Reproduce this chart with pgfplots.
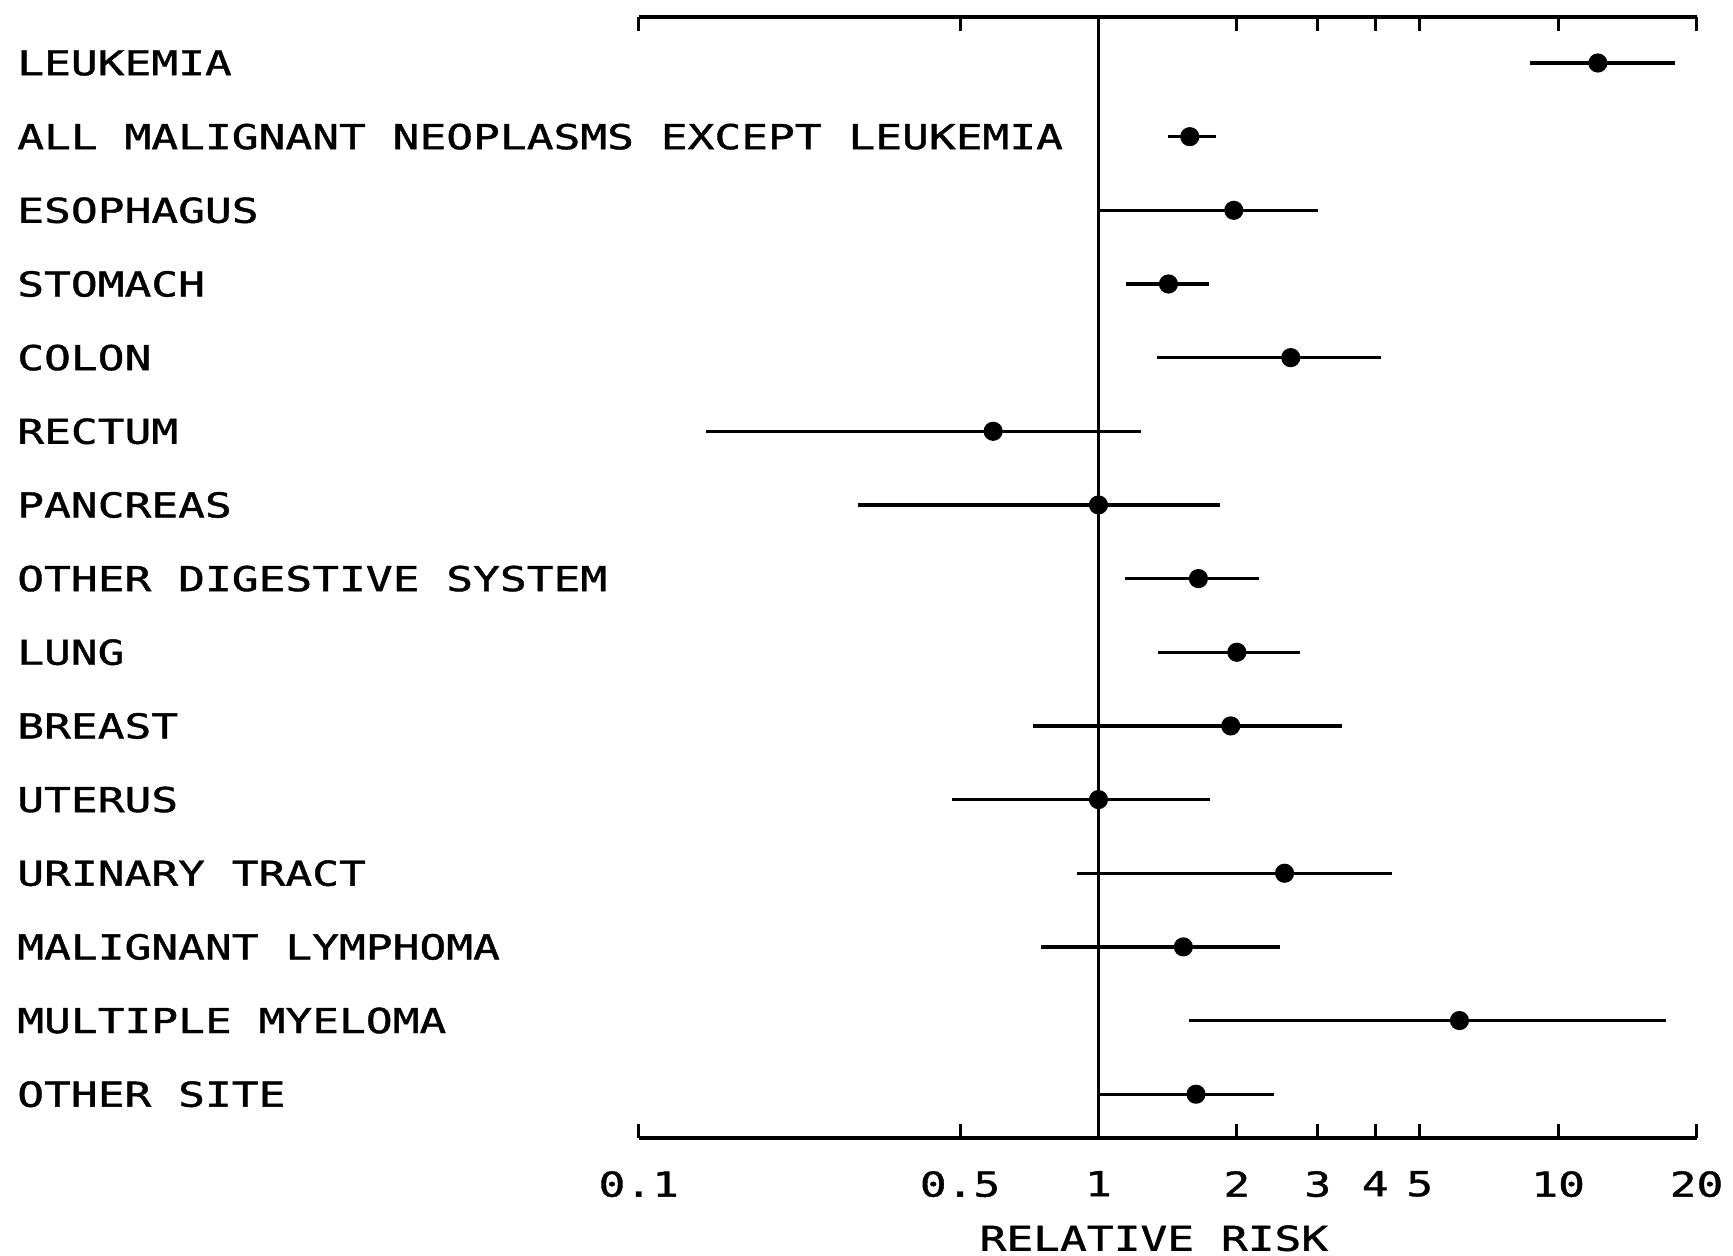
\documentclass[border=0pt]{standalone}
\usepackage{fontspec}
\setmainfont{DejaVu Sans Mono}[FakeStretch=1.3, FakeBold=1.2]
\usepackage{pgfplots}
\pgfplotsset{compat=1.18}
\usepackage{pgfplotstable}

\pgfplotstableread{
y est lo hi
1 12.2 8.7 18
2 1.58 1.42 1.80
3 1.97 1.0 3.0
4 1.42 1.15 1.74
5 2.62 1.34 4.12
6 0.59 0.14 1.24
7 1.0 0.30 1.84
8 1.65 1.14 2.23
9 2.0 1.35 2.75
10 1.94 0.72 3.38
11 1.0 0.48 1.75
12 2.54 0.90 4.36
13 1.53 0.75 2.48
14 6.1 1.57 17.2
15 1.63 1.0 2.41
}\riskdata

\begin{document}
\fontsize{9.3pt}{11pt}\selectfont
\begin{tikzpicture}
\begin{axis}[
  name=ax,
  scale only axis,
  width=287.1pt, height=304.5pt,
  xmode=log,
  xmin=0.1, xmax=20,
  ymin=0.37, ymax=15.6,
  y dir=reverse,
  separate axis lines,
  every outer y axis line/.append style={draw=none},
  every outer x axis line/.append style={line width=1.1pt},
  xtick={0.1,0.5,1,2,3,4,5,10,20},
  xticklabels={0.1,0.5,1,2,3,4,5,10,20},
  xminorticks=false,
  tick align=inside,
  major tick length=4pt,
  x tick style={line width=0.8pt, black},
  ytick={1,2,3,4,5,6,7,8,9,10,11,12,13,14,15},
  yticklabels={LEUKEMIA, ALL MALIGNANT NEOPLASMS EXCEPT LEUKEMIA, ESOPHAGUS, STOMACH, COLON, RECTUM, PANCREAS, OTHER DIGESTIVE SYSTEM, LUNG, BREAST, UTERUS, URINARY TRACT, MALIGNANT LYMPHOMA, MULTIPLE MYELOMA, OTHER SITE},
  y tick style={draw=none},
  yticklabel style={inner sep=0pt, anchor=west, xshift=-168.9pt},
  xticklabel style={inner sep=0pt, anchor=north, yshift=-8.7pt},
  xlabel={RELATIVE RISK},
  every axis x label/.style={at={(axis description cs:0.487,0)}, anchor=north, inner sep=0pt, yshift=-23.4pt},
  clip=false,
]
\addplot[black, line width=0.8pt] coordinates {(1,0.37) (1,15.6)};
\addplot[black, line width=0.9pt] coordinates {(8.7,1) (18,1)};
\addplot[black, line width=0.9pt] coordinates {(1.42,2) (1.80,2)};
\addplot[black, line width=0.9pt] coordinates {(1.0,3) (3.0,3)};
\addplot[black, line width=0.9pt] coordinates {(1.15,4) (1.74,4)};
\addplot[black, line width=0.9pt] coordinates {(1.34,5) (4.12,5)};
\addplot[black, line width=0.9pt] coordinates {(0.14,6) (1.24,6)};
\addplot[black, line width=0.9pt] coordinates {(0.30,7) (1.84,7)};
\addplot[black, line width=0.9pt] coordinates {(1.14,8) (2.23,8)};
\addplot[black, line width=0.9pt] coordinates {(1.35,9) (2.75,9)};
\addplot[black, line width=0.9pt] coordinates {(0.72,10) (3.38,10)};
\addplot[black, line width=0.9pt] coordinates {(0.48,11) (1.75,11)};
\addplot[black, line width=0.9pt] coordinates {(0.90,12) (4.36,12)};
\addplot[black, line width=0.9pt] coordinates {(0.75,13) (2.48,13)};
\addplot[black, line width=0.9pt] coordinates {(1.57,14) (17.2,14)};
\addplot[black, line width=0.9pt] coordinates {(1.0,15) (2.41,15)};
\addplot[only marks, mark=*, mark size=2.4pt, black] table[x=est, y=y] {\riskdata};
\end{axis}
\pgfresetboundingbox
\path[use as bounding box] ([xshift=-173.4pt,yshift=-31.8pt]ax.south west) rectangle ([xshift=9.9pt,yshift=4.5pt]ax.north east);
\end{tikzpicture}
\end{document}
